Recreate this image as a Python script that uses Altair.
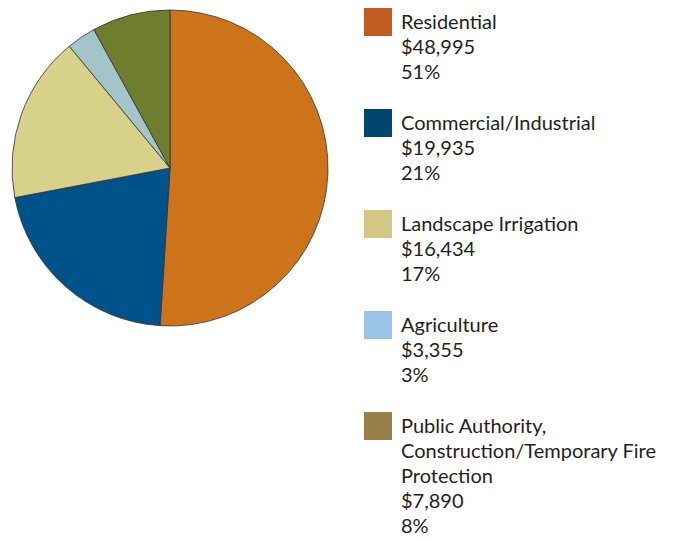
import altair as alt
import pandas as pd

categories = ["Residential", "Commercial/Industrial", "Landscape Irrigation",
              "Agriculture", "Public Authority, Construction/Temporary Fire Protection"]
label_names = ["Residential", "Commercial/Industrial", "Landscape Irrigation",
               "Agriculture", "Public Authority,\nConstruction/Temporary Fire\nProtection"]
amounts = [48995, 19935, 16434, 3355, 7890]
amount_labels = ["$48,995", "$19,935", "$16,434", "$3,355", "$7,890"]
percents = [51, 21, 17, 3, 8]
pie_colors = ["#CD7319", "#00528B", "#D8D18A", "#A3C4C9", "#6E7E2C"]
legend_colors = ["#C25B21", "#00466F", "#D2C785", "#9AC3E6", "#988049"]

df = pd.DataFrame({
    "category": categories,
    "idx": list(range(len(categories))),
    "amount": amounts,
    "percent": percents,
    "label": [f"{n}\n{a}\n{p}%" for n, a, p in zip(label_names, amount_labels, percents)],
    "pie_color": pie_colors,
    "legend_color": legend_colors,
})

pie = alt.Chart(df).mark_arc(stroke="#333333", strokeWidth=0.8, outerRadius=158).encode(
    theta=alt.Theta("percent:Q", stack=True),
    order=alt.Order("idx:Q"),
    color=alt.Color("pie_color:N", scale=None),
).properties(width=324, height=320)

ybase = alt.Y("category:N", sort=categories, axis=None,
              scale=alt.Scale(type="point", range=[14, 418], padding=0))

swatches = alt.Chart(df).mark_square(size=784, opacity=1, filled=True).encode(
    y=ybase,
    x=alt.value(38),
    color=alt.Color("legend_color:N", scale=None),
)

texts = alt.Chart(df).mark_text(
    align="left", baseline="top", dy=-9, fontSize=20, lineHeight=25,
    font="Lato", color="#231F20", lineBreak="\n"
).encode(
    y=ybase,
    x=alt.value(61),
    text="label:N",
)

legend = alt.layer(swatches, texts).properties(width=320, height=524)

chart = alt.hconcat(pie, legend, spacing=8).properties(padding=0).configure_view(stroke=None)

chart.save("out.html", embed_options={"renderer": "svg", "actions": False})
